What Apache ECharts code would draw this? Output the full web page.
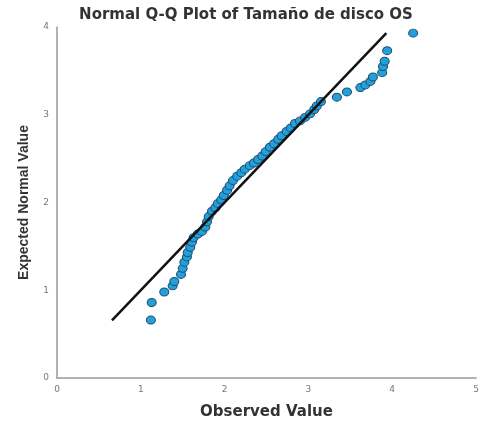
<!DOCTYPE html>
<html>
<head>
<meta charset="utf-8">
<script src="https://cdn.jsdelivr.net/npm/echarts@6/dist/echarts.min.js"></script>
<style>
  html, body { margin: 0; padding: 0; background: #fff; }
  #chart { width: 482px; height: 425px; }
</style>
</head>
<body>
<div id="chart"></div>
<script>
// Observed disk sizes (sorted) and their expected normal quantiles
const observed = [1.12, 1.13, 1.28, 1.38, 1.40, 1.48, 1.50, 1.52, 1.55, 1.56, 1.59, 1.61, 1.63, 1.68, 1.73,
  1.77, 1.79, 1.81, 1.85, 1.89, 1.92, 1.96, 1.99, 2.03, 2.06, 2.10, 2.15, 2.20, 2.24, 2.30, 2.35, 2.40,
  2.45, 2.49, 2.54, 2.59, 2.64, 2.68, 2.74, 2.79, 2.84, 2.90, 2.96, 3.02, 3.07, 3.10, 3.15,
  3.34, 3.46, 3.62, 3.68, 3.74, 3.77, 3.88, 3.89, 3.91, 3.94, 4.25];
const expected = [0.66, 0.86, 0.98, 1.05, 1.10, 1.18, 1.25, 1.32, 1.38, 1.43, 1.49, 1.55, 1.60, 1.64, 1.67,
  1.72, 1.78, 1.84, 1.90, 1.94, 1.99, 2.03, 2.08, 2.14, 2.19, 2.25, 2.30, 2.34, 2.38, 2.42, 2.45, 2.49,
  2.53, 2.58, 2.63, 2.67, 2.72, 2.76, 2.81, 2.85, 2.90, 2.93, 2.97, 3.01, 3.06, 3.10, 3.15,
  3.20, 3.26, 3.31, 3.34, 3.38, 3.43, 3.48, 3.55, 3.61, 3.73, 3.93];
// Reference line endpoints (y = x)
const refLine = [0.656, 3.93];
const xTicks = [0, 1, 2, 3, 4, 5];
const yTicks = [0, 1, 2, 3, 4];

const points = observed.map((v, i) => [v, expected[i]]);

const chart = echarts.init(document.getElementById('chart'), null, { renderer: 'canvas' });
const axisLabelStyle = { color: '#777', fontSize: 9, fontFamily: 'DejaVu Sans' };
chart.setOption({
  animation: false,
  backgroundColor: '#fff',
  title: {
    text: 'Normal Q-Q Plot of Tamaño de disco OS',
    left: 241, top: 3, textAlign: 'center',
    textStyle: { fontSize: 15, fontWeight: 'bold', color: '#333', fontFamily: 'DejaVu Sans' }
  },
  grid: { left: 57, right: 6, top: 27, bottom: 46 },
  xAxis: {
    type: 'value', min: xTicks[0], max: xTicks[xTicks.length - 1], interval: 1,
    name: 'Observed Value', nameLocation: 'middle', nameGap: 27,
    nameTextStyle: { fontSize: 15, fontWeight: 'bold', color: '#333', fontFamily: 'DejaVu Sans' },
    axisLine: { lineStyle: { color: '#999', width: 1.5 } },
    axisTick: { show: false },
    axisLabel: Object.assign({ margin: 7 }, axisLabelStyle),
    splitLine: { show: false }
  },
  yAxis: {
    type: 'value', min: yTicks[0], max: yTicks[yTicks.length - 1], interval: 1,
    name: 'Expected Normal Value', nameLocation: 'middle', nameGap: 26,
    nameTextStyle: { fontSize: 14, fontWeight: 'bold', color: '#333', fontFamily: 'Liberation Sans' },
    axisLine: { show: true, lineStyle: { color: '#999', width: 1.5 } },
    axisTick: { show: false },
    axisLabel: Object.assign({ margin: 8 }, axisLabelStyle),
    splitLine: { show: false }
  },
  series: [
    {
      type: 'line',
      data: [[refLine[0], refLine[0]], [refLine[1], refLine[1]]],
      symbol: 'none',
      lineStyle: { color: '#111', width: 2.5 },
      z: 3
    },
    {
      type: 'scatter',
      data: points,
      symbol: 'circle',
      symbolSize: [9, 8],
      itemStyle: { color: '#239fdb', borderColor: '#1d4f6e', borderWidth: 1, opacity: 1 },
      z: 2
    }
  ]
});
</script>
</body>
</html>
